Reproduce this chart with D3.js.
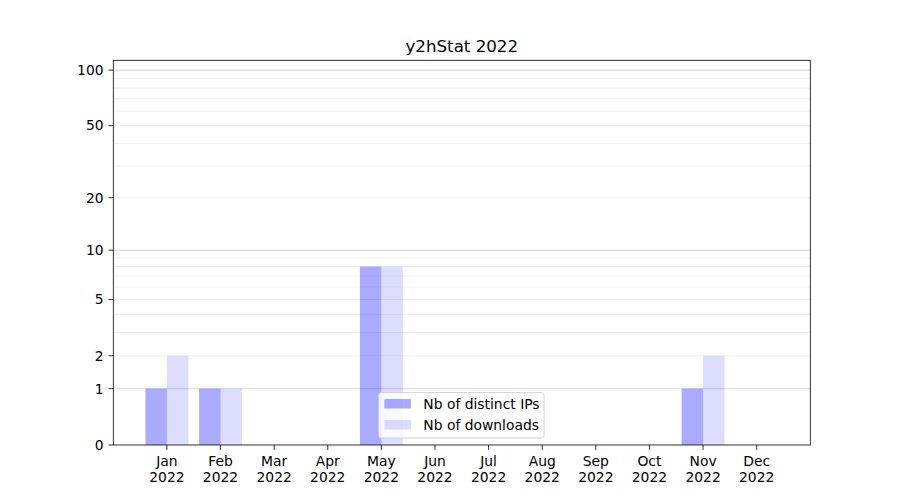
<!DOCTYPE html>
<html><head><meta charset="utf-8">
<script src="https://cdn.jsdelivr.net/npm/d3@7"></script>
<style>body{margin:0;background:#fff;} text{font-family:"DejaVu Sans",sans-serif;}</style>
</head><body><svg id="c" width="900" height="500"></svg>
<script>
const title = "y2hStat 2022";
const months = ["Jan","Feb","Mar","Apr","May","Jun","Jul","Aug","Sep","Oct","Nov","Dec"];
const yearLabel = "2022";
const distinctIPs = [1,1,0,0,8,0,0,0,0,0,1,0];
const downloads   = [2,1,0,0,8,0,0,0,0,0,2,0];
const seriesNames = ["Nb of distinct IPs","Nb of downloads"];
const yTicks = [0,1,2,5,10,20,50,100];
const yMajorGrid = [1,10,100];
const yMinorGrid = [2,3,4,5,6,7,8,9,20,30,40,50,60,70,80,90];

const svg = d3.select("#c");
const L = 113.3, R = 810.3, T = 60.3, B = 445;
const FS = "13.89px";
const x = d3.scaleLinear().domain([-1, 12]).range([L, R]);
const y = d3.scaleSymlog().constant(1).domain([0, 113]).range([B, T]);
const bw = 0.4;

// grid
svg.append("g").selectAll("line").data(yMinorGrid).join("line")
  .attr("x1", L).attr("x2", R).attr("y1", d=>y(d)).attr("y2", d=>y(d))
  .attr("stroke", "#ebebeb").attr("stroke-width", 0.8);
svg.append("g").selectAll("line").data(yMajorGrid).join("line")
  .attr("x1", L).attr("x2", R).attr("y1", d=>y(d)).attr("y2", d=>y(d))
  .attr("stroke", "#cccccc").attr("stroke-width", 0.8);

// bars
const g = svg.append("g");
g.selectAll("rect.a").data(distinctIPs).join("rect").attr("class","a")
  .attr("x", (d,i)=>x(i-bw)).attr("width", (d,i)=>x(i)-x(i-bw))
  .attr("y", d=>y(d)).attr("height", d=>y(0)-y(d))
  .attr("fill", "blue").attr("fill-opacity", 0.333);
g.selectAll("rect.b").data(downloads).join("rect").attr("class","b")
  .attr("x", (d,i)=>x(i)).attr("width", (d,i)=>x(i+bw)-x(i))
  .attr("y", d=>y(d)).attr("height", d=>y(0)-y(d))
  .attr("fill", "blue").attr("fill-opacity", 0.133);

// y axis
const ya = svg.append("g");
yTicks.forEach(t=>{
  ya.append("line").attr("x1", L-4.9).attr("x2", L).attr("y1", y(t)).attr("y2", y(t)).attr("stroke","#000").attr("stroke-width",0.8);
  ya.append("text").attr("x", L-9.7).attr("y", y(t)).attr("dy","0.35em").attr("text-anchor","end")
    .attr("font-size",FS).attr("fill","#000").text(t);
});
// x axis
const xa = svg.append("g");
months.forEach((m,i)=>{
  xa.append("line").attr("x1", x(i)).attr("x2", x(i)).attr("y1", B).attr("y2", B+4.9).attr("stroke","#000").attr("stroke-width",0.8);
  xa.append("text").attr("x", x(i)).attr("y", B+20.5).attr("text-anchor","middle").attr("font-size",FS).text(m);
  xa.append("text").attr("x", x(i)).attr("y", B+37).attr("text-anchor","middle").attr("font-size",FS).text(yearLabel);
});

// frame
svg.append("rect").attr("x", L).attr("y", T).attr("width", R-L).attr("height", B-T)
  .attr("fill","none").attr("stroke","#000").attr("stroke-width",0.8);

// title
svg.append("text").attr("x", (L+R)/2).attr("y", 52).attr("text-anchor","middle").attr("font-size","16.67px").text(title);

// legend
const lg = svg.append("g");
lg.append("rect").attr("x", 378.5).attr("y", 392.5).attr("width", 165.5).attr("height", 45.5).attr("rx", 2.5)
  .attr("fill","#fff").attr("fill-opacity",0.8).attr("stroke","#cccccc").attr("stroke-width",0.8);
const ops = [0.333, 0.133];
seriesNames.forEach((n,i)=>{
  lg.append("rect").attr("x", 384.3).attr("y", 399 + i*21).attr("width", 26.7).attr("height", 9.5)
    .attr("fill","blue").attr("fill-opacity", ops[i]);
  lg.append("text").attr("x", 423.3).attr("y", 409 + i*21).attr("font-size",FS).text(n);
});
</script></body></html>
